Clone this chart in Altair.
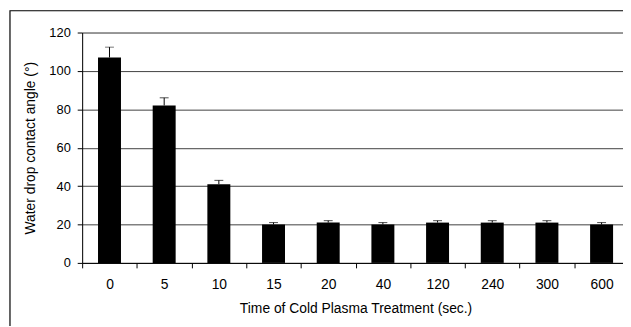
import altair as alt
import pandas as pd

times = ["0", "5", "10", "15", "20", "40", "120", "240", "300", "600"]
angles = [107, 82, 41, 20, 21, 20, 21, 21, 21, 20]
errors = [5.4, 4.0, 2.0, 1.0, 1.0, 1.0, 1.0, 1.0, 1.0, 1.0]

df = pd.DataFrame({"time": times, "angle": angles, "err": errors})

FONT = "Liberation Sans"

xscale = alt.Scale(range=[0, 553], paddingInner=0, paddingOuter=0)
xaxis = alt.Axis(
    title="Time of Cold Plasma Treatment (sec.)",
    labelAngle=0,
    tickBand="extent",
    tickSize=5,
    tickColor="black",
    domainColor="black",
    labelPadding=10,
    titlePadding=10,
    labelFont=FONT,
    labelFontSize=14,
    labelColor="black",
    titleFont=FONT,
    titleFontSize=14,
    titleFontWeight="normal",
    titleColor="black",
    grid=False,
)
yscale = alt.Scale(domain=[0, 120], nice=False)
yaxis = alt.Axis(
    title="Water drop contact angle (°)",
    values=[0, 20, 40, 60, 80, 100, 120],
    labelOverlap=False,
    grid=True,
    gridColor="#404040",
    gridWidth=1,
    tickSize=5,
    tickColor="black",
    domainColor="black",
    labelPadding=7,
    titlePadding=12,
    labelFont=FONT,
    labelFontSize=13,
    labelColor="black",
    titleFont=FONT,
    titleFontSize=14,
    titleFontWeight="normal",
    titleColor="black",
)


def X():
    return alt.X("time:N", sort=times, scale=xscale, axis=xaxis)


def Y(field):
    return alt.Y(field, scale=yscale, axis=yaxis)


base = alt.Chart(df).transform_calculate(upper="datum.angle + datum.err")

bars = base.mark_bar(color="black", width=alt.RelativeBandSize(0.42)).encode(
    x=X(), y=Y("angle:Q")
)
rules = base.mark_rule(color="black", strokeWidth=1).encode(
    x=X(), y=Y("angle:Q"), y2="upper:Q"
)
caps = base.mark_tick(color="black", thickness=1, size=9).encode(
    x=X(), y=Y("upper:Q")
)

frame = alt.Chart(alt.Data(values=[{"a": 1}])).mark_rect(
    fill="transparent", stroke="black", strokeWidth=1.2, clip=False
).encode(
    x=alt.value(-73), x2=alt.value(900), y=alt.value(-22), y2=alt.value(600)
)

chart = alt.layer(bars, rules, caps, frame).properties(
    width=547,
    height=233,
    autosize=alt.AutoSizeParams(type="none"),
    padding={"left": 75, "top": 23, "right": 0, "bottom": 62},
).configure_view(stroke=None).configure(background="white")

chart.save("out.html", embed_options={"renderer": "svg", "actions": False})
